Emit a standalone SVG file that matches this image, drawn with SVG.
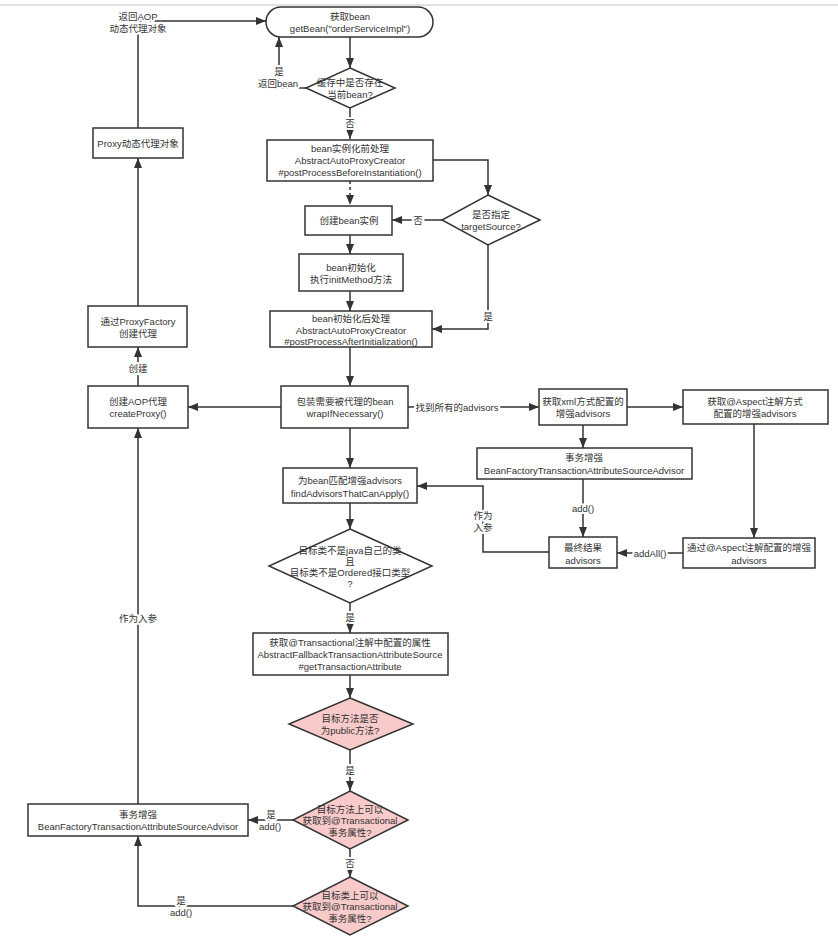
<svg xmlns="http://www.w3.org/2000/svg" width="838" height="938" viewBox="0 0 838 938">
<style>
text{font-family:"Liberation Sans","Noto Sans CJK SC",sans-serif;font-size:9.5px;fill:#333;text-anchor:middle;dominant-baseline:central}
.n rect,.n polygon{fill:#fff;stroke:#333;stroke-width:1.5}
.n polygon.pk{fill:#f8caca}
.c path{fill:none;stroke:#333;stroke-width:1.5}
.c path.d{stroke-dasharray:3 3}
.l{paint-order:stroke;stroke:#fff;stroke-width:4px;stroke-linejoin:round}
</style>
<defs>
<marker id="a" viewBox="0 0 10 10" refX="10" refY="5" markerWidth="10" markerHeight="10" markerUnits="userSpaceOnUse" orient="auto">
<path d="M0,1 L10,5 L0,9 z" fill="#333"/>
</marker>
</defs>
<rect width="838" height="938" fill="#fff"/>
<line x1="0" y1="5" x2="838" y2="5" stroke="#d8d8d8" stroke-width="1.5"/>

<g class="c">
<path d="M350 37 V68" marker-end="url(#a)"/>
<path d="M306 88 H279 V37" marker-end="url(#a)"/>
<path d="M350 108 V139" marker-end="url(#a)"/>
<path d="M433 160 H488 V195" marker-end="url(#a)"/>
<path class="d" d="M350 181 V205" marker-end="url(#a)"/>
<path d="M442 220 H392" marker-end="url(#a)"/>
<path d="M350 235 V254" marker-end="url(#a)"/>
<path d="M350 291 V311" marker-end="url(#a)"/>
<path d="M488 245 V329 H432" marker-end="url(#a)"/>
<path d="M350 347 V386" marker-end="url(#a)"/>
<path d="M281 407 H188" marker-end="url(#a)"/>
<path d="M408 407 H539" marker-end="url(#a)"/>
<path d="M627 407 H683" marker-end="url(#a)"/>
<path d="M583 425 V448" marker-end="url(#a)"/>
<path d="M583 479 V537" marker-end="url(#a)"/>
<path d="M754 424 V538" marker-end="url(#a)"/>
<path d="M683 553 H617" marker-end="url(#a)"/>
<path d="M549 552 H483 V486 H417" marker-end="url(#a)"/>
<path d="M350 428 V468" marker-end="url(#a)"/>
<path d="M350 503 V529" marker-end="url(#a)"/>
<path d="M350 603 V633" marker-end="url(#a)"/>
<path d="M350 675 V698" marker-end="url(#a)"/>
<path d="M350 750 V791" marker-end="url(#a)"/>
<path d="M293 820 H248" marker-end="url(#a)"/>
<path d="M350 849 V877" marker-end="url(#a)"/>
<path d="M293 906 H138 V836" marker-end="url(#a)"/>
<path d="M138 804 V428" marker-end="url(#a)"/>
<path d="M138 386 V347" marker-end="url(#a)"/>
<path d="M138 306 V158" marker-end="url(#a)"/>
<path d="M138 128 V21 H266" marker-end="url(#a)"/>
<text class="l" x="279" y="71">是</text>
<text class="l" x="278" y="83">返回bean</text>
<text class="l" x="350" y="123">否</text>
<text class="l" x="418" y="220">否</text>
<text class="l" x="488" y="316">是</text>
<text class="l" x="457" y="407">找到所有的advisors</text>
<text class="l" x="583" y="508">add()</text>
<text class="l" x="650" y="553">addAll()</text>
<text class="l" x="483" y="515">作为</text>
<text class="l" x="483" y="527">入参</text>
<text class="l" x="350" y="617">是</text>
<text class="l" x="350" y="770">是</text>
<text class="l" x="271" y="814">是</text>
<text class="l" x="270" y="826">add()</text>
<text class="l" x="350" y="863">否</text>
<text class="l" x="181" y="900">是</text>
<text class="l" x="181" y="912">add()</text>
<text class="l" x="138" y="618">作为入参</text>
<text class="l" x="138" y="368">创建</text>
<text class="l" x="138" y="16">返回AOP</text>
<text class="l" x="138" y="28">动态代理对象</text>
</g>

<g id="start" class="n">
<rect x="266" y="7" width="167" height="30" rx="15"/>
<text x="350" y="16">获取bean</text>
<text x="350" y="28">getBean("orderServiceImpl")</text>
</g>
<g id="cache" class="n">
<polygon points="350,68 395,88 350,108 306,88"/>
<text x="350" y="82">缓存中是否存在</text>
<text x="350" y="94">当前bean?</text>
</g>
<g id="before" class="n">
<rect x="267" y="140" width="166" height="41"/>
<text x="350" y="148">bean实例化前处理</text>
<text x="350" y="160">AbstractAutoProxyCreator</text>
<text x="350" y="172">#postProcessBeforeInstantiation()</text>
</g>
<g id="target" class="n">
<polygon points="488,195 540,220 488,245 442,220"/>
<text x="491" y="214">是否指定</text>
<text x="491" y="226">targetSource?</text>
</g>
<g id="create" class="n">
<rect x="305" y="206" width="87" height="29"/>
<text x="349" y="220">创建bean实例</text>
</g>
<g id="init" class="n">
<rect x="299" y="254" width="104" height="37"/>
<text x="351" y="267">bean初始化</text>
<text x="351" y="279">执行initMethod方法</text>
</g>
<g id="after" class="n">
<rect x="270" y="311" width="162" height="36"/>
<text x="351" y="318">bean初始化后处理</text>
<text x="351" y="330">AbstractAutoProxyCreator</text>
<text x="351" y="341">#postProcessAfterInitialization()</text>
</g>
<g id="wrap" class="n">
<rect x="281" y="386" width="127" height="42"/>
<text x="345" y="401">包装需要被代理的bean</text>
<text x="345" y="413">wrapIfNecessary()</text>
</g>
<g id="createProxy" class="n">
<rect x="88" y="386" width="100" height="42"/>
<text x="138" y="401">创建AOP代理</text>
<text x="138" y="413">createProxy()</text>
</g>
<g id="proxyFactory" class="n">
<rect x="88" y="306" width="99" height="41"/>
<text x="138" y="321">通过ProxyFactory</text>
<text x="138" y="333">创建代理</text>
</g>
<g id="proxyObj" class="n">
<rect x="93" y="128" width="90" height="30"/>
<text x="138" y="143">Proxy动态代理对象</text>
</g>
<g id="xml" class="n">
<rect x="539" y="389" width="88" height="36"/>
<text x="583" y="401">获取xml方式配置的</text>
<text x="583" y="413">增强advisors</text>
</g>
<g id="aspect" class="n">
<rect x="683" y="390" width="145" height="34"/>
<text x="755" y="401">获取@Aspect注解方式</text>
<text x="755" y="413">配置的增强advisors</text>
</g>
<g id="txAdvisor" class="n">
<rect x="477" y="448" width="215" height="31"/>
<text x="584" y="457">事务增强</text>
<text x="584" y="470">BeanFactoryTransactionAttributeSourceAdvisor</text>
</g>
<g id="result" class="n">
<rect x="549" y="537" width="68" height="31"/>
<text x="583" y="547">最终结果</text>
<text x="583" y="560">advisors</text>
</g>
<g id="aspectAdv" class="n">
<rect x="683" y="538" width="132" height="30"/>
<text x="749" y="547">通过@Aspect注解配置的增强</text>
<text x="749" y="560">advisors</text>
</g>
<g id="match" class="n">
<rect x="283" y="468" width="134" height="35"/>
<text x="350" y="480">为bean匹配增强advisors</text>
<text x="350" y="493">findAdvisorsThatCanApply()</text>
</g>
<g id="classCheck" class="n">
<polygon points="350,529 432,566 350,603 269,566"/>
<text x="350" y="550">目标类不是java自己的类</text>
<text x="350" y="561">且</text>
<text x="350" y="572">目标类不是Ordered接口类型</text>
<text x="350" y="583">?</text>
</g>
<g id="getAttr" class="n">
<rect x="253" y="633" width="195" height="42"/>
<text x="350" y="642">获取@Transactional注解中配置的属性</text>
<text x="350" y="654">AbstractFallbackTransactionAttributeSource</text>
<text x="350" y="666">#getTransactionAttribute</text>
</g>
<g id="isPublic" class="n">
<polygon class="pk" points="350,698 413,724 350,750 289,724"/>
<text x="350" y="718">目标方法是否</text>
<text x="350" y="730">为public方法?</text>
</g>
<g id="methodTx" class="n">
<polygon class="pk" points="350,791 408,820 350,849 293,820"/>
<text x="350" y="809">目标方法上可以</text>
<text x="350" y="820">获取到@Transactional</text>
<text x="350" y="832">事务属性?</text>
</g>
<g id="classTx" class="n">
<polygon class="pk" points="350,877 408,906 350,935 293,906"/>
<text x="350" y="895">目标类上可以</text>
<text x="350" y="906">获取到@Transactional</text>
<text x="350" y="918">事务属性?</text>
</g>
<g id="txAdvisor2" class="n">
<rect x="28" y="804" width="220" height="32"/>
<text x="138" y="814">事务增强</text>
<text x="138" y="826">BeanFactoryTransactionAttributeSourceAdvisor</text>
</g>
</svg>
